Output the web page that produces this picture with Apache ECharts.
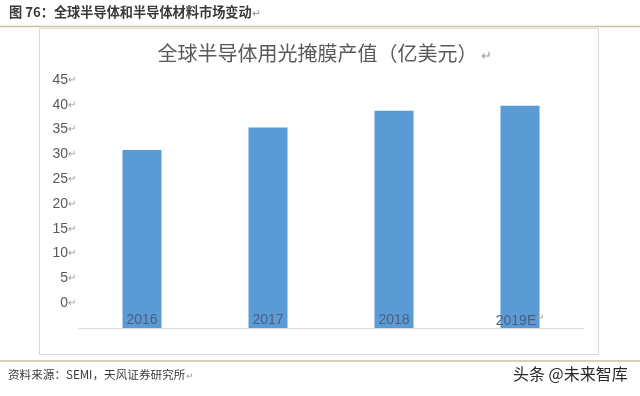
<!DOCTYPE html>
<html>
<head>
<meta charset="utf-8">
<script src="https://cdn.jsdelivr.net/npm/echarts@6/dist/echarts.min.js"></script>
<style>
html,body{margin:0;padding:0;background:#fff;}
#c{width:640px;height:396px;}
</style>
</head>
<body>
<div id="c"></div>
<script>
const categories = ['2016', '2017', '2018', '2019E'];
const values = [30.9, 35.4, 38.8, 39.8];
const yTicks = [0, 5, 10, 15, 20, 25, 30, 35, 40, 45];
const axisFloor = -5;

const FONT = '"Noto Sans CJK SC", "Microsoft YaHei", sans-serif';
const barColor = '#5b9bd5';
const barWidthPx = 39;

const chart = echarts.init(document.getElementById('c'), null, {renderer: 'canvas'});
chart.setOption({
  backgroundColor: '#fff',
  animation: false,
  title: {
    text: '全球半导体用光掩膜产值（亿美元）{r|↵}',
    left: 320, top: 38, textAlign: 'center',
    textStyle: {
      fontFamily: FONT, fontSize: 20, fontWeight: 'normal', color: '#595959',
      rich: {r: {fontSize: 13, color: '#9a9a9a', padding: [4, 0, 0, 4]}}
    }
  },
  grid: {left: 79, right: 57, top: 80, bottom: 68, containLabel: false},
  xAxis: {
    type: 'category',
    data: categories,
    z: 10,
    axisLine: {show: true, onZero: false, lineStyle: {color: '#d9d9d9', width: 1}},
    axisTick: {show: false},
    axisLabel: {
      margin: -15, fontFamily: 'Liberation Sans, Arial, sans-serif', fontSize: 14, color: '#4a5f80',
      formatter: (v) => v === '2019E' ? v + '{r|↵}' : v,
      rich: {r: {fontSize: 10, color: '#9a9a9a', padding: [0, 0, 6, 0]}}
    }
  },
  yAxis: {
    type: 'value',
    min: axisFloor, max: yTicks[yTicks.length - 1], interval: 5,
    axisLine: {show: false},
    axisTick: {show: false},
    splitLine: {show: false},
    axisLabel: {
      margin: 3,
      fontFamily: 'Liberation Sans, Arial, sans-serif', fontSize: 14, color: '#595959',
      formatter: (v) => yTicks.indexOf(v) >= 0 ? v + '{r|↵}' : '',
      rich: {r: {fontSize: 10, color: '#9a9a9a', padding: [0, 0, 0, 0]}}
    }
  },
  series: [
    {
      type: 'custom', name: '产值',
      data: values.map((v, i) => [i, v]),
      encode: {x: 0, y: 1},
      renderItem: function (params, api) {
        const top = api.coord([api.value(0), api.value(1)]);
        const bottom = api.coord([api.value(0), axisFloor]);
        return {
          type: 'rect',
          shape: {x: top[0] - barWidthPx / 2, y: top[1], width: barWidthPx, height: bottom[1] - top[1]},
          style: {fill: barColor}
        };
      },
      z: 2
    }
  ],
  graphic: [
    {type: 'text', left: 9, top: 5, style: {text: '图 76：全球半导体和半导体材料市场变动', font: 'bold 13.2px ' + FONT, fill: '#3a3a3a'}},
    {type: 'text', left: 252, top: 7, style: {text: '↵', font: '11px ' + FONT, fill: '#9a9a9a'}},
    {type: 'line', shape: {x1: 0, y1: 26.5, x2: 640, y2: 26.5}, style: {stroke: '#cdbf9f', lineWidth: 1.5}},
    {type: 'rect', shape: {x: 39.5, y: 28.5, width: 559, height: 326}, style: {fill: 'none', stroke: '#d9d9d9', lineWidth: 1}},
    {type: 'line', shape: {x1: 0, y1: 361, x2: 640, y2: 361}, style: {stroke: '#cdbf9f', lineWidth: 1.5}},
    {type: 'text', left: 8, top: 369, style: {text: '资料来源：SEMI，天风证券研究所', font: '11.6px ' + FONT, fill: '#3a3a3a'}},
    {type: 'text', left: 186, top: 371, style: {text: '↵', font: '9px ' + FONT, fill: '#9a9a9a'}},
    {type: 'text', left: 513, top: 366, style: {text: '头条 @未来智库', font: '16px ' + FONT, fill: '#2a2a2a'}}
  ]
});
</script>
</body>
</html>
